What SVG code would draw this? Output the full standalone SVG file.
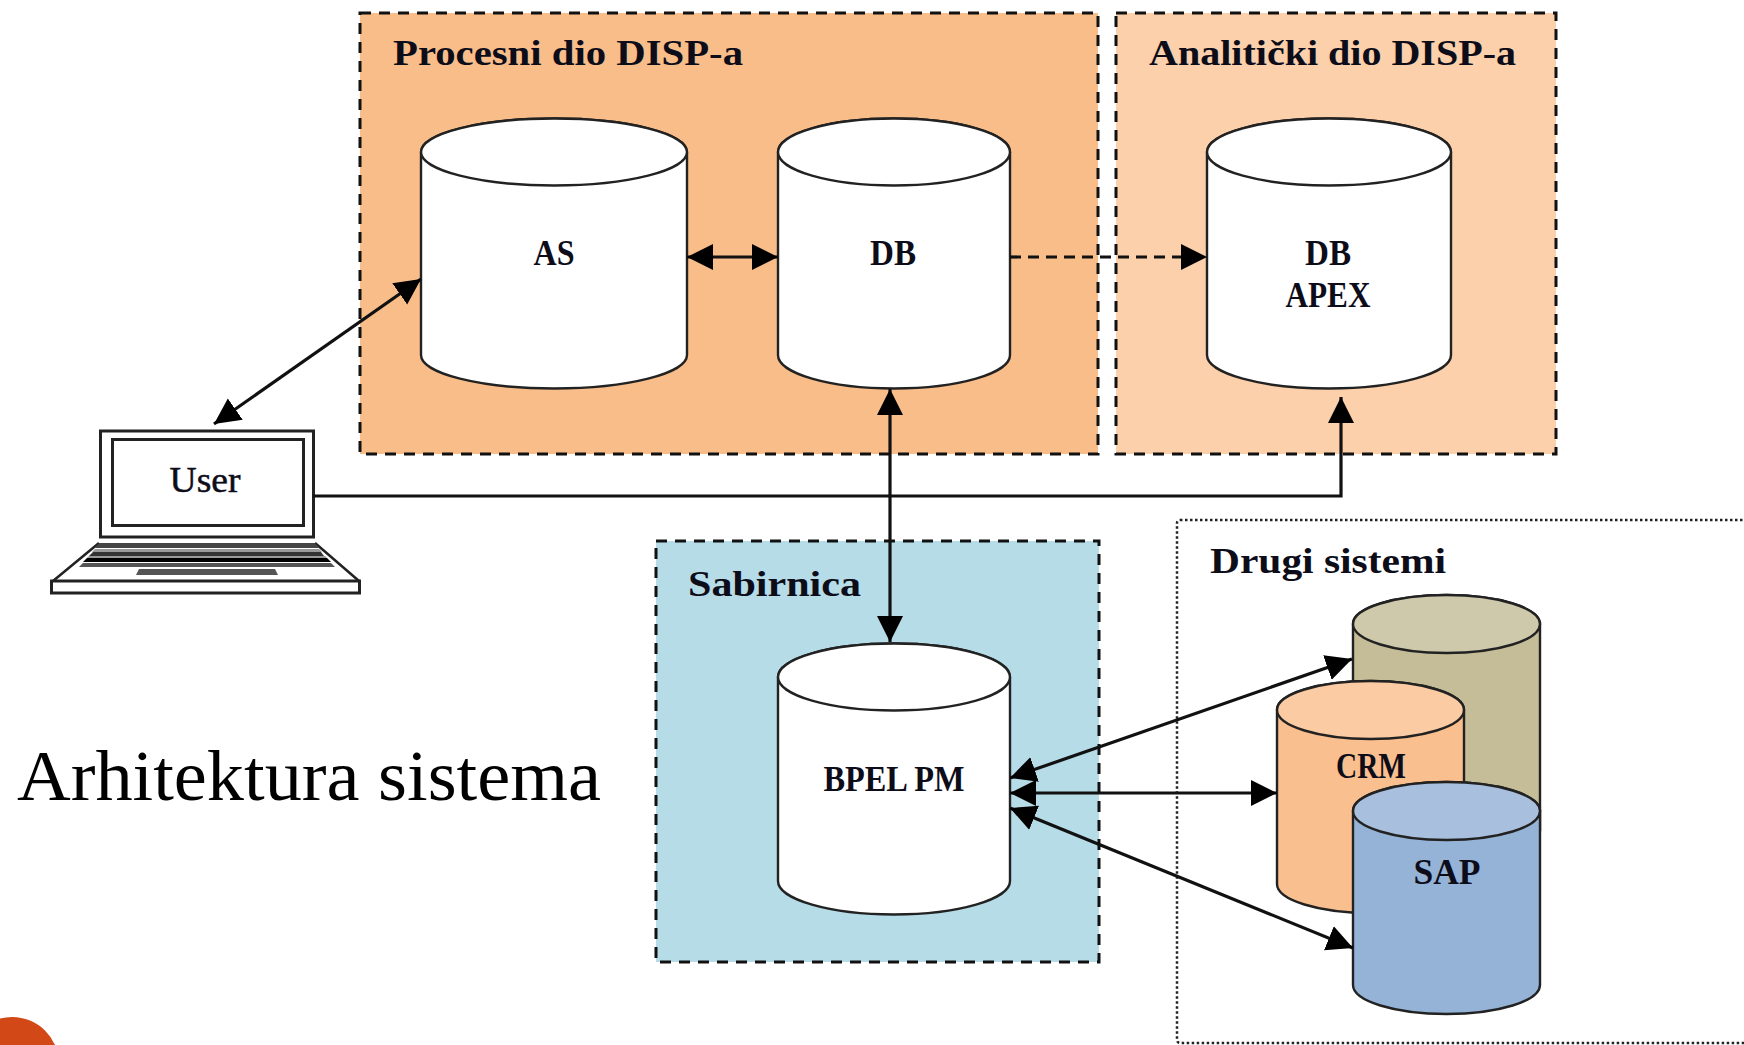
<svg xmlns="http://www.w3.org/2000/svg" width="1744" height="1045" viewBox="0 0 1744 1045">
<style>
text{font-family:"Liberation Serif",serif;font-weight:bold;fill:#0d0d1a;text-anchor:middle}
.t{font-size:36px;text-anchor:start}
.l{font-size:36px}
.box{stroke:#111;stroke-width:3;stroke-dasharray:11 8}
.cyl{stroke:#222;stroke-width:2.4}
.con{stroke:#111;stroke-width:3.2;fill:none}
.ln{stroke:#222;fill:none}
</style>
<defs>
<marker id="a" markerUnits="userSpaceOnUse" markerWidth="28" markerHeight="28" refX="26" refY="14" orient="auto-start-reverse"><path d="M0 1L26 14L0 27Z" fill="#000"/></marker>
</defs>
<rect width="1744" height="1045" fill="#fff"/>
<g id="bg-circle"><circle cx="12" cy="1064" r="47" fill="#d34817"/></g>
<g id="procesni"><rect class="box" x="360" y="13" width="738" height="441" fill="#f9bd8a"/><text class="t" x="393" y="65" textLength="350" lengthAdjust="spacingAndGlyphs">Procesni dio DISP-a</text></g>
<g id="analiticki"><rect class="box" x="1116" y="13" width="440" height="441" fill="#fbd0ab"/><text class="t" x="1149" y="65" textLength="367" lengthAdjust="spacingAndGlyphs">Analitički dio DISP-a</text></g>
<g id="sabirnica"><rect class="box" x="656" y="541" width="443" height="421" fill="#b6dce8"/><text class="t" x="688" y="596" textLength="173" lengthAdjust="spacingAndGlyphs">Sabirnica</text></g>
<g id="drugi"><rect x="1177" y="520" width="600" height="523" rx="3" fill="#fff" stroke="#222" stroke-width="2.5" stroke-dasharray="2.5 2.5"/><text class="t" x="1210" y="573" textLength="236" lengthAdjust="spacingAndGlyphs">Drugi sistemi</text></g>
<g id="as"><path class="cyl" fill="#fff" d="M421 152A133 33.500 0 0 1 687 152V355A133 33.500 0 0 1 421 355Z"/><ellipse class="cyl" fill="#fff" cx="554" cy="152" rx="133" ry="33.500"/><text class="l" x="554" y="265" textLength="41" lengthAdjust="spacingAndGlyphs">AS</text></g>
<g id="db"><path class="cyl" fill="#fff" d="M778 152A116 33.500 0 0 1 1010 152V355A116 33.500 0 0 1 778 355Z"/><ellipse class="cyl" fill="#fff" cx="894" cy="152" rx="116" ry="33.500"/><text class="l" x="893" y="265" textLength="46" lengthAdjust="spacingAndGlyphs">DB</text></g>
<g id="dbapex"><path class="cyl" fill="#fff" d="M1207 152A122 33.500 0 0 1 1451 152V355A122 33.500 0 0 1 1207 355Z"/><ellipse class="cyl" fill="#fff" cx="1329" cy="152" rx="122" ry="33.500"/><text class="l" x="1328" y="265" textLength="46" lengthAdjust="spacingAndGlyphs">DB</text><text class="l" x="1328" y="307" textLength="85" lengthAdjust="spacingAndGlyphs">APEX</text></g>
<g id="bpel"><path class="cyl" fill="#fff" d="M778 677A116 33.500 0 0 1 1010 677V881A116 33.500 0 0 1 778 881Z"/><ellipse class="cyl" fill="#fff" cx="894" cy="677" rx="116" ry="33.500"/><text class="l" x="894" y="791" textLength="141" lengthAdjust="spacingAndGlyphs">BPEL PM</text></g>
<g id="olive"><path class="cyl" fill="#c4bd97" d="M1353 624A93.500 29 0 0 1 1540 624V830H1353Z"/><ellipse class="cyl" fill="#cfc9ab" cx="1446.500" cy="624" rx="93.500" ry="29"/></g>
<g id="crm"><path class="cyl" fill="#fabf8f" d="M1277 710A93.500 29 0 0 1 1464 710V884A93.500 29 0 0 1 1277 884Z"/><ellipse class="cyl" fill="#fbcba3" cx="1370.500" cy="710" rx="93.500" ry="29"/><text class="l" x="1371" y="778" textLength="70" lengthAdjust="spacingAndGlyphs">CRM</text></g>
<g id="sap"><path class="cyl" fill="#95b3d7" d="M1353 811A93.500 29 0 0 1 1540 811V985A93.500 29 0 0 1 1353 985Z"/><ellipse class="cyl" fill="#a8bfde" cx="1446.500" cy="811" rx="93.500" ry="29"/><text class="l" x="1447" y="884" textLength="67" lengthAdjust="spacingAndGlyphs">SAP</text></g>
<g id="user">
<rect class="ln" x="100.500" y="431" width="213" height="106" fill="#fff" stroke-width="3"/>
<rect class="ln" x="112.500" y="439.500" width="191" height="86" stroke-width="3"/>
<text x="205" y="492" style="font-size:36px;font-weight:normal" stroke="#0d0d1a" stroke-width="0.5" textLength="71" lengthAdjust="spacingAndGlyphs">User</text>
<path class="ln" stroke-width="2.500" d="M53 581L99 543M359 581L315 543"/>
<rect class="ln" x="51.500" y="581" width="308" height="12" stroke-width="3"/>
<path d="M99 543H315L319 548H95Z" fill="#444"/>
<path d="M95 549H319L322 552H92Z" fill="#999"/>
<path d="M93 552H321L324 556H89Z" fill="#333"/>
<path d="M89 556H325L327 558H87Z" fill="#999"/>
<path d="M87 558H327L331 562H83Z" fill="#000"/>
<path d="M83 563H331L335 567H79Z" fill="#555"/>
<path d="M139 569H275L278 575H136Z" fill="#555"/>
</g>
<g id="connectors">
<path class="con" marker-start="url(#a)" marker-end="url(#a)" d="M214 424L421 279"/>
<path class="con" marker-start="url(#a)" marker-end="url(#a)" d="M687 257H778"/>
<path class="con" stroke-dasharray="11 7" marker-end="url(#a)" d="M1010 257H1207"/>
<path class="con" marker-start="url(#a)" marker-end="url(#a)" d="M890 389V642"/>
<path class="con" marker-end="url(#a)" d="M313 496H1341V397"/>
<path class="con" marker-start="url(#a)" marker-end="url(#a)" d="M1010 778L1352 659"/>
<path class="con" marker-start="url(#a)" marker-end="url(#a)" d="M1010 793H1277"/>
<path class="con" marker-start="url(#a)" marker-end="url(#a)" d="M1010 808L1353 948"/>
</g>
<text id="title" x="17" y="800" style="font-size:72px;font-weight:normal;text-anchor:start;fill:#000" textLength="584" lengthAdjust="spacingAndGlyphs">Arhitektura sistema</text>
</svg>
